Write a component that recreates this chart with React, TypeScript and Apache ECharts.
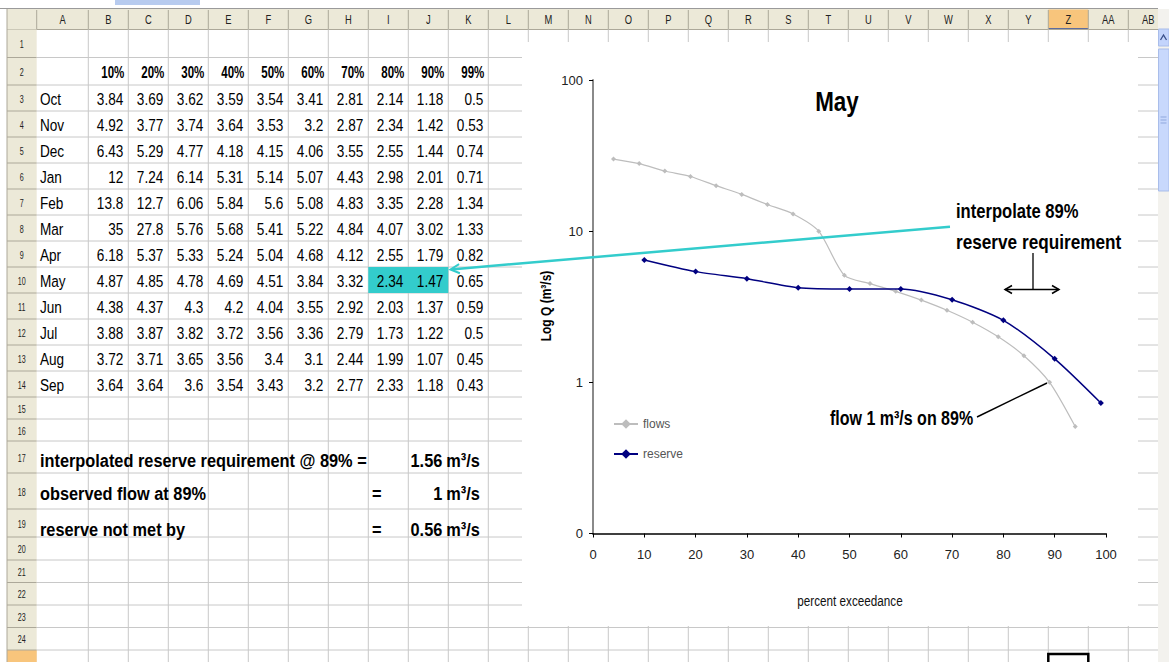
import React, { useEffect, useRef } from "react";
import * as echarts from "echarts";

// ---------------- data ----------------
const percentLabels = ["10%", "20%", "30%", "40%", "50%", "60%", "70%", "80%", "90%", "99%"];
const months = ["Oct", "Nov", "Dec", "Jan", "Feb", "Mar", "Apr", "May", "Jun", "Jul", "Aug", "Sep"];
const octQ = [3.84, 3.69, 3.62, 3.59, 3.54, 3.41, 2.81, 2.14, 1.18, 0.5];
const novQ = [4.92, 3.77, 3.74, 3.64, 3.53, 3.2, 2.87, 2.34, 1.42, 0.53];
const decQ = [6.43, 5.29, 4.77, 4.18, 4.15, 4.06, 3.55, 2.55, 1.44, 0.74];
const janQ = [12, 7.24, 6.14, 5.31, 5.14, 5.07, 4.43, 2.98, 2.01, 0.71];
const febQ = [13.8, 12.7, 6.06, 5.84, 5.6, 5.08, 4.83, 3.35, 2.28, 1.34];
const marQ = [35, 27.8, 5.76, 5.68, 5.41, 5.22, 4.84, 4.07, 3.02, 1.33];
const aprQ = [6.18, 5.37, 5.33, 5.24, 5.04, 4.68, 4.12, 2.55, 1.79, 0.82];
const mayQ = [4.87, 4.85, 4.78, 4.69, 4.51, 3.84, 3.32, 2.34, 1.47, 0.65];
const junQ = [4.38, 4.37, 4.3, 4.2, 4.04, 3.55, 2.92, 2.03, 1.37, 0.59];
const julQ = [3.88, 3.87, 3.82, 3.72, 3.56, 3.36, 2.79, 1.73, 1.22, 0.5];
const augQ = [3.72, 3.71, 3.65, 3.56, 3.4, 3.1, 2.44, 1.99, 1.07, 0.45];
const sepQ = [3.64, 3.64, 3.6, 3.54, 3.43, 3.2, 2.77, 2.33, 1.18, 0.43];
const monthRows = [octQ, novQ, decQ, janQ, febQ, marQ, aprQ, mayQ, junQ, julQ, augQ, sepQ];

const summaryLabels = ["interpolated reserve requirement @ 89% =", "observed flow at 89%", "reserve not met by"];
const summaryValues = [1.56, 1, 0.56];
const summaryUnit = "m³/s";

const flowsPct = [4, 9, 14, 19, 24, 29, 34, 39, 44, 49, 54, 59, 64, 69, 74, 79, 84, 89, 94];
const flowsQ = [30, 28, 25, 23, 20, 17.5, 15, 13, 10, 5.1, 4.5, 4.0, 3.5, 3.0, 2.5, 2.0, 1.5, 1.0, 0.51];
const reservePct = [10, 20, 30, 40, 50, 60, 70, 80, 90, 99];
const reserveQ = [6.45, 5.4, 4.85, 4.23, 4.15, 4.15, 3.52, 2.57, 1.43, 0.73];

const chartTitle = "May";
const xAxisTitle = "percent exceedance";
const yAxisTitle = "Log Q (m³/s)";
const noteInterp = ["interpolate 89%", "reserve requirement"];
const noteFlow = "flow 1 m³/s on 89%";
const colLetters = ["A", "B", "C", "D", "E", "F", "G", "H", "I", "J", "K", "L", "M", "N", "O", "P", "Q", "R", "S", "T", "U", "V", "W", "X", "Y", "Z", "AA", "AB"];
const visibleRowCount = 24;

// ---------------- layout ----------------
const W = 1169;
const H = 662;
const FONT = "'Liberation Sans', Arial, sans-serif";

const colEdges: number[] = [36.7, 88.3];
for (let k = 1; k <= 27; k++) colEdges.push(88.3 + 40 * k);
const rowEdges = [29.5, 57.5, 85, 111, 137, 163, 189, 215, 241, 267, 293, 319, 345, 371, 397, 419, 441, 473, 509, 537, 560, 582.5, 605, 627.5, 650, 672.5];
const rowMid = (r: number) => (rowEdges[r - 1] + rowEdges[r]) / 2;

const HEAD_FILL = "#ece9d8";
const HEAD_LINE = "#aca899";
const GRID_LINE = "#c8c8c8";

function buildGraphics() {
  const g: any[] = [];
  const rect = (x: number, y: number, w: number, h: number, fill: string, z: number, stroke?: string, lw = 1) =>
    g.push({ type: "rect", z, silent: true, shape: { x, y, width: w, height: h }, style: { fill, stroke: stroke || null, lineWidth: stroke ? lw : 0 } });
  const line = (x1: number, y1: number, x2: number, y2: number, stroke: string, lw: number, z: number) =>
    g.push({ type: "line", z, silent: true, shape: { x1, y1, x2, y2 }, style: { stroke, lineWidth: lw } });
  const poly = (pts: number[][], stroke: string, lw: number, z: number) =>
    g.push({ type: "polyline", z, silent: true, shape: { points: pts }, style: { stroke, lineWidth: lw, fill: null } });
  const text = (str: string, x: number, y: number, o: any) =>
    g.push({
      type: "text",
      z: o.z ?? -5,
      x,
      y,
      rotation: o.rot ?? 0,
      scaleX: o.sx ?? 1,
      silent: true,
      style: {
        text: str,
        x: 0,
        y: 0,
        fill: o.color ?? "#000",
        fontSize: o.size,
        fontWeight: o.bold ? "bold" : "normal",
        fontFamily: FONT,
        align: o.align ?? "left",
        verticalAlign: "middle",
        textAlign: o.align ?? "left",
        textVerticalAlign: "middle",
      },
    });

  const ZS = -30;
  // top strip
  rect(115, 0, 85, 5, "#b7cbef", ZS);
  // column header bar
  rect(7, 9, 1151, 20.5, HEAD_FILL, ZS);
  line(0, 8.5, 1158, 8.5, "#9a9a9a", 1, ZS);
  // selected column Z header
  rect(colEdges[25], 9.5, 40, 20, "#f8c57c", ZS);
  line(colEdges[25], 29, colEdges[26], 29, "#2b4ea8", 1.5, ZS);
  for (let k = 0; k < colEdges.length; k++) {
    if (colEdges[k] < 1158) line(colEdges[k], 10, colEdges[k], 29, HEAD_LINE, 1, ZS);
  }
  line(7, 29.5, 1158, 29.5, HEAD_LINE, 1, ZS);
  for (let k = 0; k < colLetters.length; k++) {
    const cx = (colEdges[k] + colEdges[k + 1]) / 2;
    if (cx < 1158) text(colLetters[k], cx, 19.5, { size: 13, sx: 0.72, align: "center", color: "#222", z: -25 });
  }
  line(1160, 10, 1169, 10, "#555", 1, ZS);
  // row header column
  rect(7, 29.5, 29.7, H - 29.5, HEAD_FILL, ZS);
  rect(7, rowEdges[24], 29.7, H - rowEdges[24], "#f8c57c", ZS);
  line(7, 9, 7, H, HEAD_LINE, 1, ZS);
  for (let r = 1; r < rowEdges.length; r++) line(7, rowEdges[r], 36.7, rowEdges[r], HEAD_LINE, 1, ZS);
  for (let r = 1; r <= visibleRowCount; r++) {
    text(String(r), 21.8, rowMid(r) + 1, { size: 11, sx: 0.65, align: "center", color: "#222", z: -25 });
  }
  // cell grid
  for (let r = 1; r < rowEdges.length; r++) line(36.7, rowEdges[r], 1158, rowEdges[r], GRID_LINE, 1, ZS);
  for (let k = 1; k < colEdges.length; k++) if (colEdges[k] < 1158) line(colEdges[k], 29.5, colEdges[k], H, GRID_LINE, 1, ZS);
  // highlighted cells I10:J10
  rect(colEdges[8], rowEdges[9], 80, rowEdges[10] - rowEdges[9], "#33cccc", -28);
  // selected cell Z25
  rect(colEdges[25], rowEdges[24] + 4, 40, 14, "rgba(0,0,0,0)", -24, "#000", 2.5);
  // scrollbar
  rect(1158, 9, 11, H - 9, "#f3f2ee", -24);
  rect(1158.5, 29, 10.5, 17, "#c3d4fc", -23, "#a9bdea", 1);
  poly([[1160.5, 40], [1163.5, 35], [1166.5, 40]], "#3a4f8a", 1.3, -22);
  rect(1158.5, 49, 10.5, 142, "#c8d8fc", -23, "#a9bdea", 1);
  line(1160.5, 117, 1166.5, 117, "#8fa7dd", 1, -22);
  line(1160.5, 120, 1166.5, 120, "#8fa7dd", 1, -22);
  line(1160.5, 123, 1166.5, 123, "#8fa7dd", 1, -22);

  // table headers
  for (let j = 0; j < percentLabels.length; j++) {
    text(percentLabels[j], colEdges[j + 2] - 4, rowMid(2) + 1, { size: 16, bold: true, sx: 0.72, align: "right" });
  }
  // table body
  for (let i = 0; i < months.length; i++) {
    const r = i + 3;
    const y = rowMid(r) + 1;
    text(months[i], 40, y, { size: 17, sx: 0.8 });
    const vals = monthRows[i];
    for (let j = 0; j < vals.length; j++) {
      text(String(vals[j]), colEdges[j + 2] - 5, y, { size: 17, sx: 0.8, align: "right" });
    }
  }
  // summary rows
  const sumY = [461, 494, 530];
  for (let i = 0; i < summaryLabels.length; i++) {
    text(summaryLabels[i], 40, sumY[i], { size: 19, bold: true, sx: 0.86 });
    if (i > 0) text("=", 372, sumY[i], { size: 19, bold: true, sx: 0.86 });
    text(String(summaryValues[i]), colEdges[10] - 6, sumY[i], { size: 19, bold: true, sx: 0.86, align: "right" });
    text(summaryUnit, colEdges[10] - 2, sumY[i], { size: 19, bold: true, sx: 0.86 });
  }

  // chart area backdrop
  rect(522, 42, 616, 584, "#ffffff", -20);

  // chart annotations
  const ZA = 50;
  text(chartTitle, 837, 101, { size: 28, bold: true, sx: 0.8, align: "center", z: ZA });
  text(noteInterp[0], 956, 211, { size: 20, bold: true, sx: 0.83, z: ZA });
  text(noteInterp[1], 956, 242, { size: 20, bold: true, sx: 0.86, z: ZA });
  text(noteFlow, 830, 418, { size: 20, bold: true, sx: 0.8, z: ZA });
  // axis titles (condensed, like the original)
  text(xAxisTitle, 850, 601, { size: 15, sx: 0.78, align: "center", color: "#111", z: ZA });
  text(yAxisTitle, 546, 306, { size: 15, bold: true, sx: 0.8, align: "center", rot: Math.PI / 2, z: ZA });
  // bracket + double arrow
  line(1033, 253, 1033, 289.5, "#000", 1.3, ZA);
  line(1005, 289.5, 1059, 289.5, "#000", 1.5, ZA);
  poly([[1012, 285.5], [1005, 289.5], [1012, 293.5]], "#000", 1.5, ZA);
  poly([[1052, 285.5], [1059, 289.5], [1052, 293.5]], "#000", 1.5, ZA);
  // pointer line for observed flow
  line(977, 417, 1047, 383, "#000", 1.4, ZA);
  // cyan arrow to the interpolated cells
  line(451, 269.4, 950, 226.7, "#33cccc", 2.5, ZA);
  poly([[459.1, 264.2], [450.5, 269.5], [459.9, 273.2]], "#33cccc", 2, ZA);
  return g;
}

function buildOption() {
  const axisFont = { fontFamily: FONT, fontSize: 13, color: "#222" };
  return {
    animation: false,
    backgroundColor: "#ffffff",
    grid: { left: 593, top: 80, width: 513, height: 453.5, containLabel: false },
    legend: {
      orient: "vertical",
      left: 608,
      top: 413,
      itemWidth: 24,
      itemHeight: 12,
      itemGap: 18,
      data: ["flows", "reserve"],
      textStyle: { fontFamily: FONT, fontSize: 12, color: "#555" },
    },
    xAxis: {
      type: "value",
      min: 0,
      max: 100,
      interval: 10,
      axisLine: { lineStyle: { color: "#000", width: 1.5 } },
      axisTick: { show: true, length: 4, lineStyle: { color: "#000" } },
      axisLabel: { ...axisFont, margin: 14 },
      splitLine: { show: false },
    },
    yAxis: {
      type: "log",
      logBase: 10,
      min: 0.1,
      max: 100,
      axisLine: { show: true, lineStyle: { color: "#8a8a8a", width: 2 } },
      axisTick: { show: true, length: 4, lineStyle: { color: "#000" } },
      axisLabel: {
        ...axisFont,
        margin: 10,
        formatter: (v: number) => (v < 0.5 ? "0" : String(Math.round(v))),
      },
      splitLine: { show: false },
    },
    series: [
      {
        name: "flows",
        type: "line",
        data: flowsPct.map((p, i) => [p, flowsQ[i]]),
        smooth: 0.25,
        symbol: "diamond",
        symbolSize: 5,
        itemStyle: { color: "#bdbdbd" },
        lineStyle: { color: "#bdbdbd", width: 1.2 },
        z: 3,
      },
      {
        name: "reserve",
        type: "line",
        data: reservePct.map((p, i) => [p, reserveQ[i]]),
        smooth: 0.25,
        symbol: "diamond",
        symbolSize: 6,
        itemStyle: { color: "#000080" },
        lineStyle: { color: "#000080", width: 1.5 },
        z: 4,
      },
    ],
    graphic: { elements: buildGraphics() },
  };
}

export default function App() {
  const ref = useRef<HTMLDivElement>(null);
  useEffect(() => {
    document.body.style.margin = "0";
    const chart = echarts.init(ref.current!, null, { renderer: "svg", width: W, height: H });
    chart.setOption(buildOption() as any);
    return () => chart.dispose();
  }, []);
  return <div ref={ref} style={{ position: "absolute", left: 0, top: 0, width: W, height: H, background: "#fff" }} />;
}
